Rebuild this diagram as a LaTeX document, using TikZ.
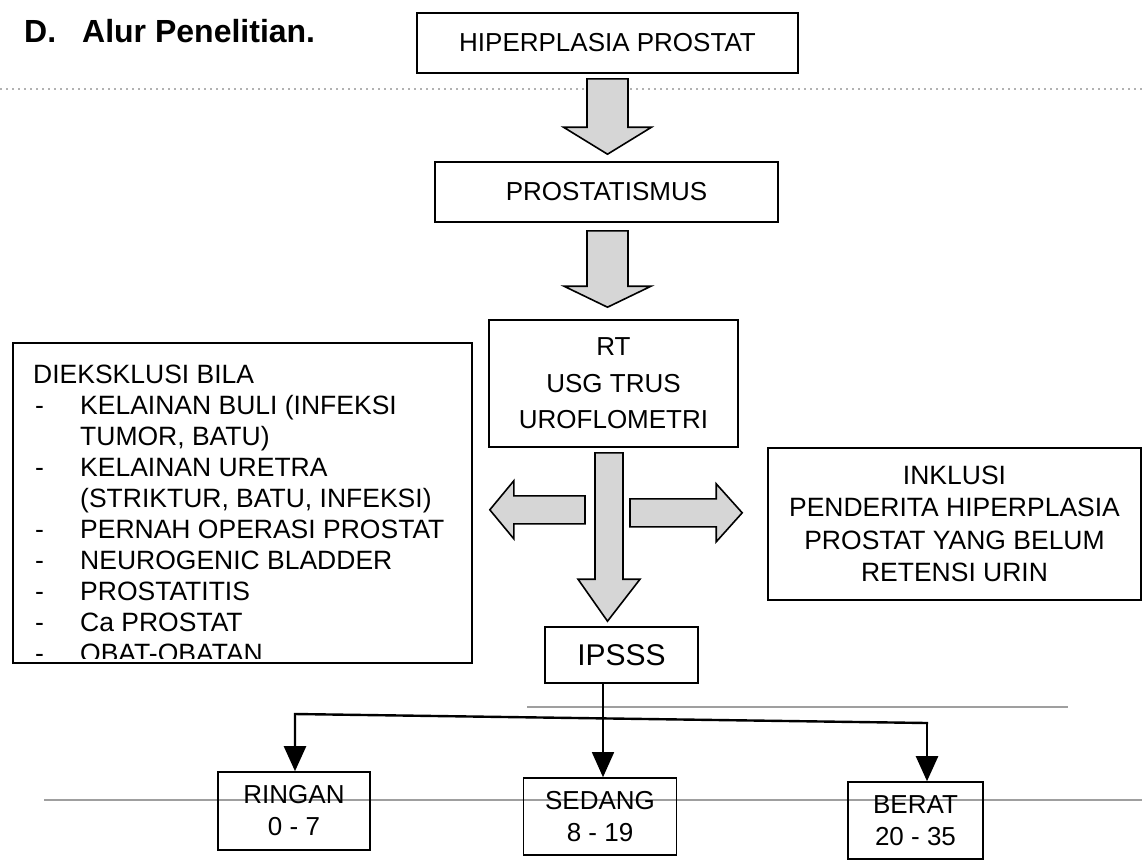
\documentclass[tikz,border=0pt]{standalone}
\usepackage{fontspec}
\setmainfont{Liberation Sans}
\usetikzlibrary{calc,arrows.meta}
\begin{document}
\begin{tikzpicture}[x=1pt,y=-1pt,
  txt/.style={font=\fontsize{26.5}{31}\selectfont, inner sep=0pt},
  box/.style={draw, line width=1.6pt, inner sep=0pt, align=center,
    font=\fontsize{26}{33}\selectfont},
  barrow/.style={draw, line width=1.6pt, fill=black!16, line join=miter},
  conn/.style={line width=2.4pt, line cap=rect, -{Triangle[width=22pt,length=25pt]}},
  midconn/.style={line width=1.5pt, -{Triangle[width=22pt,length=25pt]}},
  scanline/.style={gray!75, line width=1.3pt}]
\useasboundingbox (0,0) rectangle (1142,860);

% scan lines
\draw[gray!60, line width=1.2pt, dash pattern=on 2pt off 4pt] (0,89) -- (1142,89);
\draw[scanline] (527,707) -- (1068,707);
\draw[scanline] (44,800) -- (1142,800);

% title
\node[anchor=base west, inner sep=0pt, font=\bfseries\fontsize{32}{36}\selectfont] (title) at (24,42) {D.\hspace{26pt}Alur Penelitian.};

% main boxes
\node[box, minimum width=381pt, minimum height=60pt] (b1) at (607.5,43) {HIPERPLASIA PROSTAT};
\node[box, minimum width=343pt, minimum height=60pt] (b2) at (606.5,192) {PROSTATISMUS};
\node[box, minimum width=249pt, minimum height=127pt, font=\fontsize{26}{36.5}\selectfont] (b3) at (613.5,383.5) {RT\\USG TRUS\\UROFLOMETRI};
\node[draw, line width=1.6pt, inner sep=0pt, minimum width=459pt, minimum height=320pt] (excl) at (242.5,503) {};
\node[box, minimum width=373pt, minimum height=152pt, font=\fontsize{26.5}{32.5}\selectfont] (incl) at (954.5,524) {INKLUSI\\PENDERITA HIPERPLASIA\\PROSTAT YANG BELUM\\RETENSI URIN};
\node[box, minimum width=153pt, minimum height=56pt, font=\fontsize{30}{34}\selectfont] (ipsss) at (621.5,655) {IPSSS};
\node[box, minimum width=152pt, minimum height=78pt, font=\fontsize{26}{32}\selectfont] (ringan) at (294,811) {RINGAN\\0 - 7};
\node[box, minimum width=153pt, minimum height=77pt, font=\fontsize{26}{32}\selectfont] (sedang) at (600,816.5) {SEDANG\\8 - 19};
\node[box, minimum width=135pt, minimum height=77pt, font=\fontsize{26}{32}\selectfont] (berat) at (915.5,820.5) {BERAT\\20 - 35};

% exclusion text
\node[txt, anchor=base west] (e0) at (33,383) {DIEKSKLUSI BILA};
\foreach \y/\n in {414/d1,476/d2,538/d3,569/d4,600/d5,631/d6}
  \node[txt, anchor=base west] (\n) at (35,\y) {-};
\node[txt, anchor=base west] (e1) at (80,414) {KELAINAN BULI (INFEKSI};
\node[txt, anchor=base west] (e2) at (80,445) {TUMOR, BATU)};
\node[txt, anchor=base west] (e3) at (80,476) {KELAINAN URETRA};
\node[txt, anchor=base west] (e4) at (80,507) {(STRIKTUR, BATU, INFEKSI)};
\node[txt, anchor=base west] (e5) at (80,538) {PERNAH OPERASI PROSTAT};
\node[txt, anchor=base west] (e6) at (80,569) {NEUROGENIC BLADDER};
\node[txt, anchor=base west] (e7) at (80,600) {PROSTATITIS};
\node[txt, anchor=base west] (e8) at (80,631) {Ca PROSTAT};
\begin{scope}
  \clip (13,600) rectangle (472,658);
  \node[txt, anchor=base west] (d7) at (35,662) {-};
  \node[txt, anchor=base west] (e9) at (80,662) {OBAT-OBATAN};
\end{scope}

% block arrows
\draw[barrow] let \p1=(b1.south), \p2=(b2.north) in
  (\x1-20.5pt,\y1-5pt) -- (\x1-20.5pt,\y2+34pt) -- (\x1-44pt,\y2+34pt) -- (\x1,\y2+7pt)
  -- (\x1+44pt,\y2+34pt) -- (\x1+20.5pt,\y2+34pt) -- (\x1+20.5pt,\y1-5pt) -- cycle;
\draw[barrow] let \p1=(b2.south), \p2=(b3.north) in
  (\x1-19.5pt,\y1-8pt) -- (\x1-19.5pt,\y2+33pt) -- (\x1-42.5pt,\y2+33pt) -- (\x1+1pt,\y2+12pt)
  -- (\x1+44.5pt,\y2+33pt) -- (\x1+21.5pt,\y2+33pt) -- (\x1+21.5pt,\y1-8pt) -- cycle;
\draw[barrow] let \p1=(b3.south), \p2=(ipsss.north) in
  (\x1-18.5pt,\y1-5pt) -- (\x1-18.5pt,\y2+47pt) -- (\x1-35.5pt,\y2+47pt) -- (\x1-6pt,\y2+5pt)
  -- (\x1+26.5pt,\y2+47pt) -- (\x1+9.5pt,\y2+47pt) -- (\x1+9.5pt,\y1-5pt) -- cycle;
\draw[barrow] let \p1=(excl.east), \p2=(b3.south) in
  (\x1+17pt,\y2-62pt) -- (\x1+41pt,\y2-33pt) -- (\x1+41pt,\y2-48pt) -- (\x2-28.5pt,\y2-48pt)
  -- (\x2-28.5pt,\y2-76pt) -- (\x1+41pt,\y2-76pt) -- (\x1+41pt,\y2-91pt) -- cycle;
\draw[barrow] let \p1=(incl.west), \p2=(b3.south) in
  (\x1-25pt,\y2-65pt) -- (\x1-51pt,\y2-36pt) -- (\x1-51pt,\y2-51pt) -- (\x2+16.5pt,\y2-51pt)
  -- (\x2+16.5pt,\y2-79pt) -- (\x1-51pt,\y2-79pt) -- (\x1-51pt,\y2-94pt) -- cycle;

% IPSSS distribution
\coordinate (jm) at (603,718);
\coordinate (jl) at (295,714);
\coordinate (jr) at (927,723);
\draw[midconn] (ipsss.south -| jm) -- (sedang.north -| jm);
\draw[conn] (jr) -- (jl) -- (ringan.north -| jl);
\draw[conn] (jr) -- (berat.north -| jr);
\end{tikzpicture}
\end{document}
